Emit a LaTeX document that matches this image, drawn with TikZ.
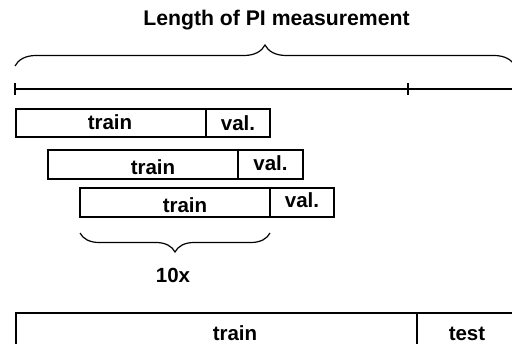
\documentclass[tikz,border=0pt]{standalone}
\usepackage{fontspec}
\setmainfont{Liberation Sans}
\usetikzlibrary{decorations.pathreplacing}
\tikzset{
  seg/.style={draw, line width=2pt, inner sep=0pt, outer sep=0pt, anchor=north west},
  lbl/.style={font=\fontsize{20.5}{24}\selectfont\bfseries, inner sep=0pt, anchor=base},
  ttl/.style={font=\fontsize{21.2}{25}\selectfont\bfseries, inner sep=0pt, anchor=base},
  bracestyle/.style={decorate, line width=1.2pt},
  axis/.style={line width=1.4pt}
}
\begin{document}
\begin{tikzpicture}[x=1pt,y=-1pt]
\useasboundingbox (0,0) rectangle (512,344);
\clip (0,0) rectangle (512,344);
% title and top brace
\node[ttl] (title) at (276.5,25.5) {Length of PI measurement};
\coordinate (bl) at (15,66);
\coordinate (br) at (515,66);
\draw[bracestyle, decoration={brace, amplitude=21pt}] (bl) -- (br);
% timeline
\coordinate (t0) at (15,89);
\coordinate (t1) at (408,89);
\coordinate (t2) at (520,89);
\draw[axis] (t0) -- (t2);
\draw[axis] ([yshift=-6pt]t0) -- ([yshift=6pt]t0);
\draw[axis] ([yshift=-6pt]t1) -- ([yshift=6pt]t1);
% row 1
\node[seg, minimum width=190pt, minimum height=28pt] (r1t) at (16,109) {};
\node[seg, minimum width=64pt, minimum height=28pt] (r1v) at (206,109) {};
\node[lbl] (r1tl) at (110,130) {train};
\node[lbl] (r1vl) at (238,130.5) {val.};
% row 2
\node[seg, minimum width=190pt, minimum height=29pt] (r2t) at (48,150) {};
\node[seg, minimum width=65pt, minimum height=29pt] (r2v) at (238,150) {};
\node[lbl] (r2tl) at (153,174.5) {train};
\node[lbl] (r2vl) at (270.5,171) {val.};
% row 3
\node[seg, minimum width=190pt, minimum height=29pt] (r3t) at (80,188) {};
\node[seg, minimum width=64pt, minimum height=29pt] (r3v) at (270,188) {};
\node[lbl] (r3tl) at (185,213) {train};
\node[lbl] (r3vl) at (302,208) {val.};
% bottom brace
\coordinate (cb1) at (270,233);
\coordinate (cb0) at (80,233);
\draw[bracestyle, decoration={brace, amplitude=19pt}] (cb1) -- (cb0);
\node[lbl] (rep) at (173,282.5) {10x};
% final split
\node[seg, minimum width=401pt, minimum height=32pt] (ft) at (16,313) {};
\node[seg, minimum width=110pt, minimum height=32pt] (fv) at (417,313) {};
\node[lbl] (ftl) at (235,341) {train};
\node[lbl] (fvl) at (467,340.5) {test};
\end{tikzpicture}
\end{document}
